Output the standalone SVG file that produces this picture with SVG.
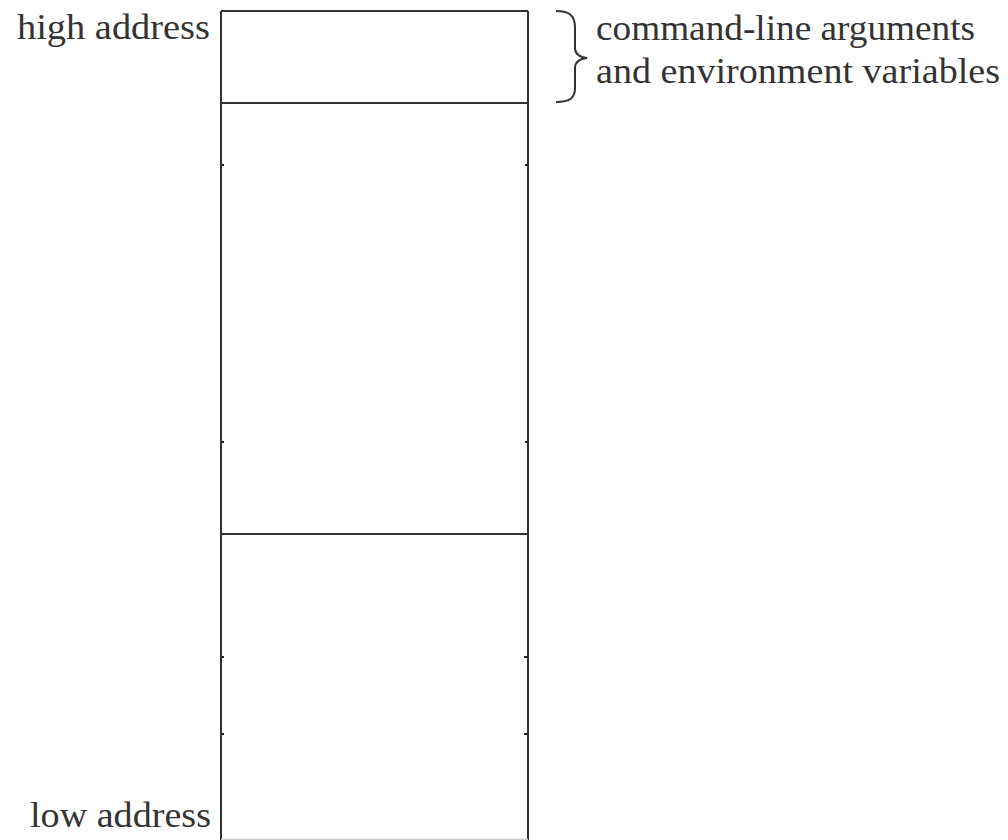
<svg xmlns="http://www.w3.org/2000/svg" width="1008" height="840" viewBox="0 0 1008 840">
  <style>
    .lbl { font-family: "Liberation Serif", "Times New Roman", serif; font-size: 35px; fill: #333; }
    .edge { stroke: #333; stroke-width: 2; fill: none; }
    .tick { stroke: #222; stroke-width: 2; }
  </style>
  <rect width="1008" height="840" fill="#fff"/>

  <!-- memory column -->
  <g id="memory">
    <path class="edge" d="M221,11 H528 M221,11 V840 M528,11 V840 M221,103 H528 M221,534 H528"/>
    <path stroke="#ccc" stroke-width="1.5" d="M221,839.5 H528"/>
    <g id="ticks">
      <path class="tick" d="M221,165 h3 M525,165 h3 M221,442 h3 M525,442 h3 M221,657 h3 M524,657 h4 M221,734 h3 M524,734 h4"/>
    </g>
  </g>

  <g id="high-address">
    <text class="lbl" x="210" y="39" text-anchor="end" textLength="193" lengthAdjust="spacingAndGlyphs">high address</text>
  </g>
  <g id="low-address">
    <text class="lbl" x="211" y="827" text-anchor="end" textLength="181" lengthAdjust="spacingAndGlyphs">low address</text>
  </g>

  <!-- brace marking the argument / environment area -->
  <g id="args-env">
    <path class="edge" stroke-width="1.8" d="M556,11 C570,11 575,16 575,28 V48 C575,54 579,57 587,58 C579,59 575,62 575,68 V88 C575,98 570,102 556,102"/>
    <text class="lbl" x="596" y="40" textLength="379" lengthAdjust="spacingAndGlyphs">command-line arguments</text>
    <text class="lbl" x="596" y="83" textLength="404" lengthAdjust="spacingAndGlyphs">and environment variables</text>
  </g>
</svg>
